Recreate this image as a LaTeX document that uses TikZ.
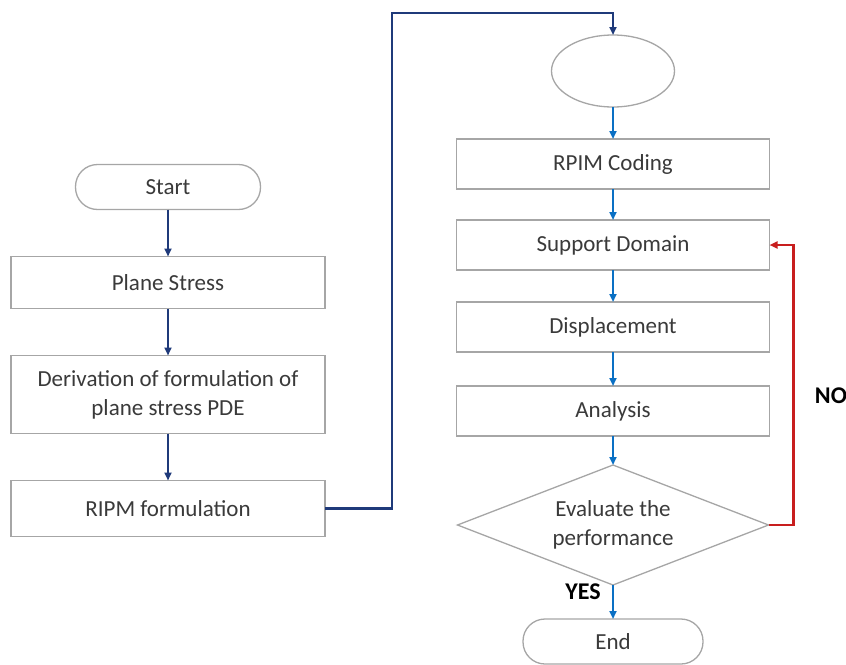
\documentclass[tikz,border=0pt]{standalone}
\usepackage{fontspec}
\setmainfont{Carlito}
\usetikzlibrary{shapes.geometric, arrows.meta, positioning, calc}

\definecolor{navyline}{HTML}{1F3A7A}
\definecolor{blueline}{HTML}{0A70C4}
\definecolor{redline}{HTML}{C81E1E}
\definecolor{edgegray}{HTML}{A6A6A6}
\definecolor{textgray}{HTML}{3A3A3A}

\begin{document}
\begin{tikzpicture}[
        x=1pt, y=-1pt,
        node distance=47pt and 2cm,
        box/.style={rectangle, draw=edgegray, fill=white, line width=1.3pt, minimum width=314pt, minimum height=52pt, inner sep=0pt, outer sep=0pt, align=center, text=textgray, font=\fontsize{23}{29}\selectfont},
        term/.style={rectangle, rounded corners=22pt, draw=edgegray, fill=white, line width=1.3pt, minimum width=185pt, minimum height=45pt, inner sep=0pt, outer sep=0pt, text=textgray, font=\fontsize{23}{29}\selectfont},
        circ/.style={ellipse, draw=edgegray, fill=white, line width=1.3pt, minimum width=123pt, minimum height=72pt, inner sep=0pt, outer sep=0pt},
        decision/.style={diamond, aspect=2.6, draw=edgegray, fill=white, line width=1.3pt, minimum width=311pt, minimum height=120pt, inner sep=0pt, outer sep=0pt, align=center, text=textgray, font=\fontsize{23}{29}\selectfont},
        navyarrow/.style={-{Triangle[length=8pt, width=7pt]}, line width=2.5pt, draw=navyline},
        bluearrow/.style={-{Triangle[length=8pt, width=7pt]}, line width=2.2pt, draw=blueline},
        redarrow/.style={-{Triangle[length=8pt, width=7pt]}, line width=2.2pt, draw=redline},
        answer/.style={font=\fontsize{24}{29}\selectfont\bfseries, text=black}
    ]
    \useasboundingbox (0,0) rectangle (846,664);

    % Nodes
    \node[term] (start) at (168,187) {Start};
    \node[box, below=of start] (plane) {Plane Stress};
    \node[box, minimum height=78pt, below=of plane] (deriv) {Derivation of formulation of\\plane stress PDE};
    \node[box, minimum height=56pt, below=of deriv] (ripm) {RIPM formulation};

    \node[circ] (blank) at (613,71) {};
    \node[box, minimum width=313pt, minimum height=50pt, below=32pt of blank] (coding) {RPIM Coding};
    \node[box, minimum width=313pt, minimum height=50pt, below=31pt of coding] (support) {Support Domain};
    \node[box, minimum width=313pt, minimum height=50pt, below=32pt of support] (disp) {Displacement};
    \node[box, minimum width=313pt, minimum height=50pt, below=34pt of disp] (analysis) {Analysis};
    \node[decision, below=29pt of analysis] (evaluate) {Evaluate the\\performance};
    \node[term, minimum width=180pt, below=34pt of evaluate] (finish) {End};

    \coordinate (over) at (392,13);

    % Arrows
    \draw[navyarrow] (start) -- (plane);
    \draw[navyarrow] (plane) -- (deriv);
    \draw[navyarrow] (deriv) -- (ripm);
    \draw[navyarrow] (ripm.east) -| (over) -| (blank.north);

    \draw[bluearrow] (blank) -- (coding);
    \draw[bluearrow] (coding) -- (support);
    \draw[bluearrow] (support) -- (disp);
    \draw[bluearrow] (disp) -- (analysis);
    \draw[bluearrow] (analysis) -- (evaluate);
    \draw[bluearrow] (evaluate) -- node[answer, pos=0.2, left=8pt] (yes) {YES} (finish);

    % Loop back
    \draw[redarrow] (evaluate.east) -- ++(25,0) |- node[answer, pos=0.23, right=17pt] (no) {NO} (support.east);

\end{tikzpicture}
\end{document}
